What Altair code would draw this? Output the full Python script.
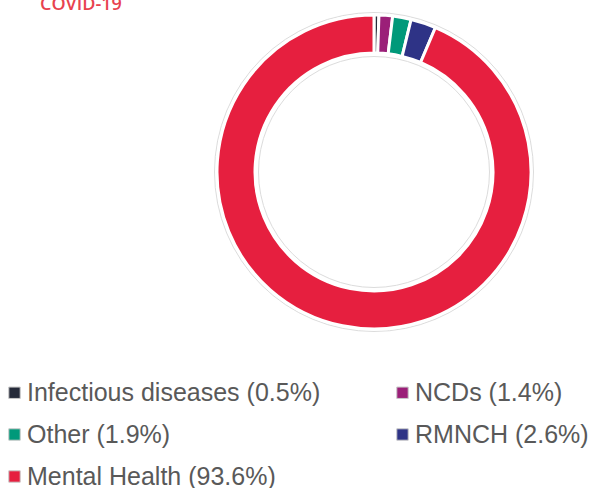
import altair as alt
import pandas as pd

categories = ["Infectious diseases", "NCDs", "Other", "RMNCH", "Mental Health"]
shares = [0.5, 1.4, 1.9, 2.6, 93.6]
colors = ["#262b3a", "#9b1f78", "#00997a", "#2e3386", "#e61f3f"]
title_text = "COVID-19"

labels = [f"{c} ({v}%)" for c, v in zip(categories, shares)]
df = pd.DataFrame({"label": labels, "share": shares, "order": list(range(len(labels)))})

cx, cy = 374, 172

ring = alt.Chart(df).mark_arc(
    outerRadius=157, innerRadius=119, stroke="white", strokeWidth=3
).encode(
    theta=alt.Theta("share:Q", stack=True),
    order=alt.Order("order:Q"),
    color=alt.Color(
        "label:N",
        sort=labels,
        scale=alt.Scale(domain=labels, range=colors),
        legend=alt.Legend(
            title=None,
            orient="none",
            legendX=2,
            legendY=380,
            columns=2,
            direction="horizontal",
            columnPadding=69,
            rowPadding=16,
            symbolType="square",
            symbolSize=130,
            symbolStrokeColor="#c8c8c8",
            symbolStrokeWidth=1,
            symbolOpacity=1,
            labelFont="Liberation Sans",
            labelFontSize=25,
            labelColor="#595959",
            labelOffset=0,
            labelLimit=400,
        ),
    ),
    x=alt.value(cx),
    y=alt.value(cy),
)

rings_df = pd.DataFrame({"d": [319, 231]})
outline = alt.Chart(rings_df).mark_point(
    shape="circle", filled=False, stroke="#dcdcdc", strokeWidth=1, opacity=1
).encode(
    size=alt.Size("d2:Q", scale=None, legend=None),
    x=alt.value(cx),
    y=alt.value(cy),
).transform_calculate(d2="datum.d * datum.d")

title = alt.Chart(pd.DataFrame({"t": [title_text]})).mark_text(
    font="Open Sans", fontSize=18, fontWeight=600, color="#e8424f", align="left", baseline="alphabetic"
).encode(text="t:N", x=alt.value(40), y=alt.value(10))

chart = alt.layer(outline, ring, title).properties(
    width=592, height=488, autosize=alt.AutoSizeParams(type="none"), padding=0
).configure_view(stroke=None)

chart.save("out.html", embed_options={"renderer": "svg", "actions": False})
